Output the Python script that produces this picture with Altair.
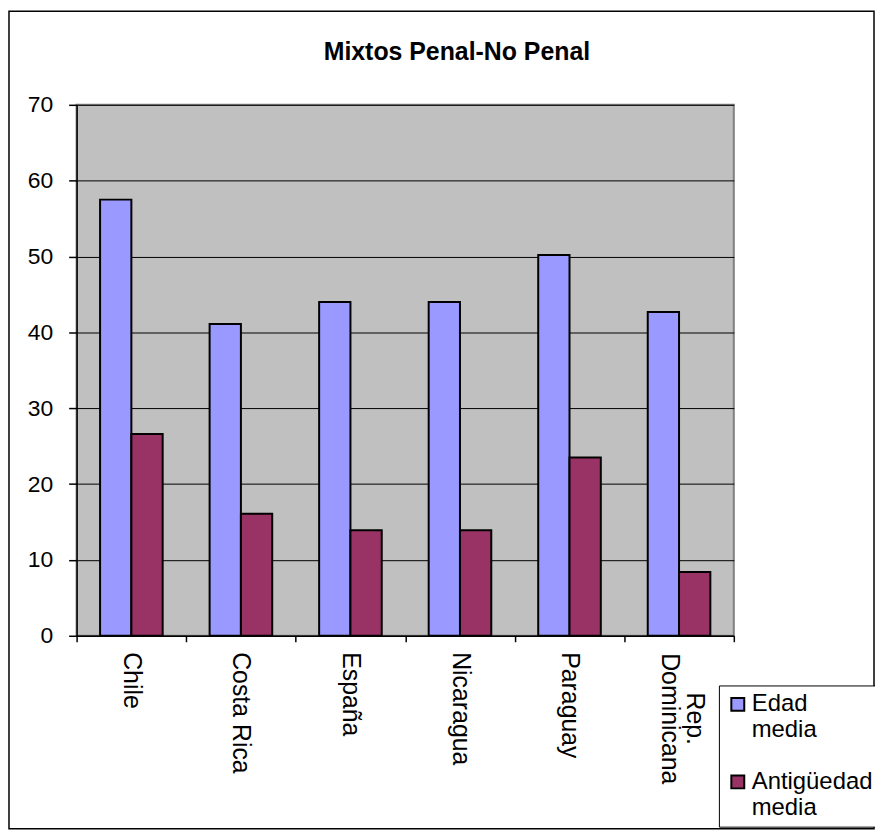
import altair as alt
import pandas as pd

countries = ["Chile", "Costa Rica", "España", "Nicaragua", "Paraguay", "Rep. Dominicana"]
series = ["Edad media", "Antigüedad media"]
edad_media = [57.5, 41.1, 44.0, 44.0, 50.2, 42.7]
antiguedad_media = [26.6, 16.1, 13.9, 13.9, 23.5, 8.4]
colors = ["#9999FF", "#993366"]
y_ticks = [0, 10, 20, 30, 40, 50, 60, 70]

rows = []
for c, e, a in zip(countries, edad_media, antiguedad_media):
    rows.append({"country": c, "series": series[0], "value": e})
    rows.append({"country": c, "series": series[1], "value": a})
df = pd.DataFrame(rows)

FONT = "Liberation Sans"
two_line = "datum.value == 'Rep. Dominicana'"
x_label_expr = two_line + " ? ['Rep.', 'Dominicana'] : datum.label"

bars = alt.Chart(df).mark_bar(stroke="black", strokeWidth=2).encode(
    x=alt.X(
        "country:N",
        sort=countries,
        scale=alt.Scale(paddingInner=0, paddingOuter=0),
        axis=alt.Axis(
            title=None,
            labelAngle=90,
            tickBand="extent",
            ticks=True,
            tickSize=6,
            tickColor="black",
            tickWidth=1.5,
            domainColor="black",
            domainWidth=1.5,
            labelFont=FONT,
            labelFontSize=25,
            labelColor="black",
            labelLineHeight=26,
            labelBaseline="middle",
            labelAlign={"condition": {"test": two_line, "value": "center"}, "value": "left"},
            labelPadding={"condition": {"test": two_line, "value": 77}, "value": 10},
            labelOffset={"condition": {"test": two_line, "value": 16}, "value": 0},
            labelExpr=x_label_expr,
        ),
    ),
    xOffset=alt.XOffset(
        "series:N", sort=series, scale=alt.Scale(paddingInner=0, paddingOuter=0.75)
    ),
    y=alt.Y(
        "value:Q",
        scale=alt.Scale(domain=[0, 70], nice=False),
        axis=alt.Axis(
            values=y_ticks,
            title=None,
            grid=True,
            gridColor="black",
            gridWidth=1,
            gridOpacity=1,
            tickSize=8,
            tickColor="black",
            tickWidth=1.5,
            domainColor="black",
            domainWidth=1.5,
            labelFont=FONT,
            labelFontSize=23,
            labelColor="black",
            labelPadding=16,
        ),
    ),
    color=alt.Color(
        "series:N",
        sort=series,
        scale=alt.Scale(domain=series, range=colors),
        legend=alt.Legend(
            title=None,
            orient="none",
            legendX=646,
            legendY=584,
            fillColor="white",
            strokeColor="black",
            padding=7,
            symbolType="square",
            symbolSize=169,
            symbolStrokeColor="black",
            symbolStrokeWidth=2,
            symbolOpacity=1,
            labelFont=FONT,
            labelFontSize=24,
            labelColor="black",
            labelBaseline="middle",
            labelOffset=2,
            rowPadding=28,
            labelExpr="split(datum.label, ' ')",
        ),
    ),
)

frame = alt.Chart(pd.DataFrame({"f": [0]})).mark_rect(
    fillOpacity=0, stroke="black", strokeWidth=1.5
).encode(
    x=alt.value(-68), x2=alt.value(802), y=alt.value(-94), y2=alt.value(728)
)

chart = alt.layer(bars, frame).properties(
    width=661,
    height=534,
    background="white",
    autosize=alt.AutoSizeParams(type="none"),
    padding={"left": 69, "top": 95, "right": 142, "bottom": 195},
    title=alt.Title(
        "Mixtos Penal-No Penal",
        font=FONT,
        fontSize=25,
        fontWeight="bold",
        color="black",
        anchor="middle",
        frame="group",
        dx=52,
        offset=-75,
        baseline="alphabetic",
    ),
).configure_view(
    fill="#C0C0C0", stroke="#808080", strokeWidth=2
)

chart.save("out.html", embed_options={"renderer": "svg", "actions": False})
